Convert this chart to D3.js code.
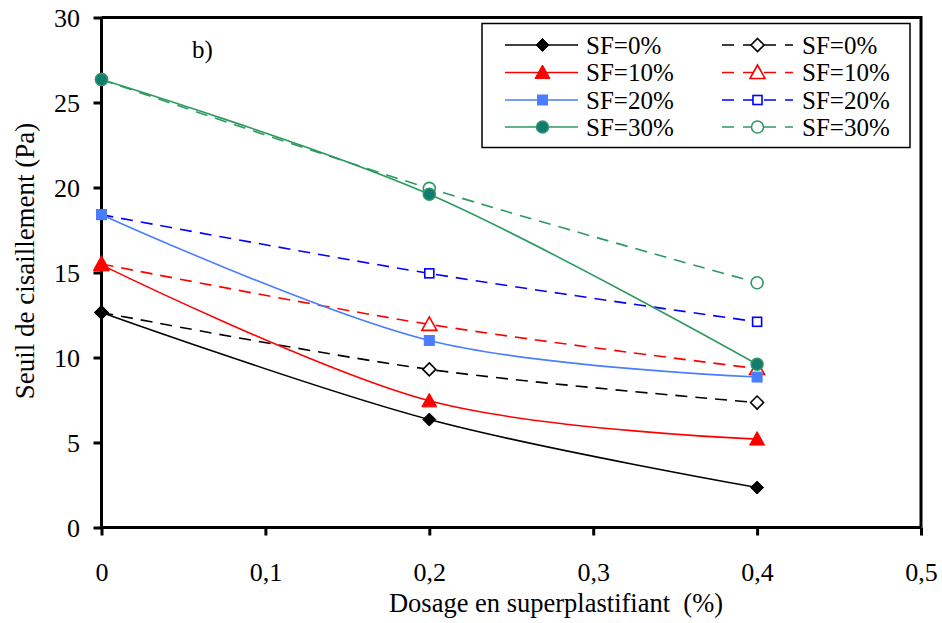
<!DOCTYPE html>
<html><head><meta charset="utf-8">
<script src="https://cdn.jsdelivr.net/npm/d3@7"></script>
<style>html,body{margin:0;padding:0;background:#fff;}svg{display:block;}svg text{font-family:'Liberation Serif','Times New Roman',serif;}</style>
</head><body>
<script>
const xValues = [0, 0.2, 0.4];
const xTicks = [0, 0.1, 0.2, 0.3, 0.4, 0.5];
const yTicks = [0, 5, 10, 15, 20, 25, 30];
const labels = ["SF=0%", "SF=10%", "SF=20%", "SF=30%"];
const solid0 = [12.65, 6.35, 2.35];
const solid10 = [15.45, 7.45, 5.2];
const solid20 = [18.4, 11.0, 8.85];
const solid30 = [26.35, 19.6, 9.6];
const dashed0 = [12.65, 9.3, 7.35];
const dashed10 = [15.5, 11.95, 9.35];
const dashed20 = [18.4, 14.95, 12.1];
const dashed30 = [26.35, 19.95, 14.4];

const W = 942, H = 623;
const svg = d3.select("body").append("svg").attr("width", W).attr("height", H);
const x = d3.scaleLinear().domain([0, 0.5]).range([101.5, 921]);
const y = d3.scaleLinear().domain([0, 30]).range([527.5, 17.5]);
const font = "'Liberation Serif','Times New Roman',serif";

const series = [
  {name: labels[0], v: solid0, color: "#000000", dash: null, sym: "diamond", fill: true},
  {name: labels[1], v: solid10, color: "#ff0000", dash: null, sym: "triangle", fill: true},
  {name: labels[2], v: solid20, color: "#4a7dff", dash: null, sym: "square", fill: true},
  {name: labels[3], v: solid30, color: "#2e9a62", dash: null, sym: "circle", fill: true, fillColor: "#127a70"},
  {name: labels[0], v: dashed0, color: "#000000", dash: "12,8", sym: "diamond", fill: false},
  {name: labels[1], v: dashed10, color: "#ff0000", dash: "12,8", sym: "triangle", fill: false},
  {name: labels[2], v: dashed20, color: "#0000ff", dash: "12,8", sym: "square", fill: false},
  {name: labels[3], v: dashed30, color: "#2e9a62", dash: "12,8", sym: "circle", fill: false}
];

function drawMarker(g, s, cx, cy) {
  const fill = s.fill ? (s.fillColor || s.color) : "#fff";
  const sw = s.fill ? 1 : 1.6;
  if (s.sym === "diamond") {
    const r = 6.5;
    g.append("path").attr("d", `M${cx},${cy-r}L${cx+r},${cy}L${cx},${cy+r}L${cx-r},${cy}Z`)
      .attr("fill", fill).attr("stroke", s.color).attr("stroke-width", sw);
  } else if (s.sym === "triangle") {
    const r = 7.5;
    g.append("path").attr("d", `M${cx},${cy-r}L${cx+r},${cy+r*0.8}L${cx-r},${cy+r*0.8}Z`)
      .attr("fill", fill).attr("stroke", s.color).attr("stroke-width", sw);
  } else if (s.sym === "square") {
    const r = s.fill ? 5 : 4.5;
    g.append("rect").attr("x", cx-r).attr("y", cy-r).attr("width", 2*r).attr("height", 2*r)
      .attr("fill", fill).attr("stroke", s.color).attr("stroke-width", sw);
  } else {
    g.append("circle").attr("cx", cx).attr("cy", cy).attr("r", 6)
      .attr("fill", fill).attr("stroke", s.color).attr("stroke-width", s.fill ? 1.5 : 1.6);
  }
}

// axes
const xAxis = d3.axisBottom(x).tickValues(xTicks).tickSize(8).tickPadding(10)
  .tickFormat(d => d === 0 ? "0" : d3.format(".1f")(d).replace(".", ","));
const gx = svg.append("g").attr("transform", `translate(0,${y(0)})`).call(xAxis)
  .attr("font-family", font).attr("font-size", 26);
gx.select(".domain").attr("stroke-width", 3).attr("d", `M${x(0)},0H${x(0.5)}`);
gx.selectAll(".tick line").attr("stroke-width", 3);
gx.selectAll("text").attr("font-family", font).attr("font-size", 26).attr("fill", "#000")
  .attr("y", 53.5).attr("dy", 0);

const yAxis = d3.axisLeft(y).tickValues(yTicks).tickSize(8).tickPadding(13.5);
const gy = svg.append("g").attr("transform", `translate(${x(0)},0)`).call(yAxis)
  .attr("font-family", font).attr("font-size", 26);
gy.select(".domain").attr("stroke-width", 3).attr("d", `M0,${y(0)}V${y(30)}`);
gy.selectAll(".tick line").attr("stroke-width", 3);
gy.selectAll("text").attr("font-family", font).attr("font-size", 26).attr("fill", "#000").attr("dy", "0.34em");

// top and right frame
svg.append("path").attr("d", `M${x(0)},${y(30)}H${x(0.5)}V${y(0)}`)
  .attr("fill", "none").attr("stroke", "#000").attr("stroke-width", 3);

// lines
const line = d3.line().x((d, i) => x(xValues[i])).y(d => y(d)).curve(d3.curveCardinal.tension(0));
const drawOrder = [4,5,6,7,0,1,2,3];
drawOrder.forEach(k => {
  const s = series[k];
  svg.append("path").attr("d", line(s.v)).attr("fill", "none").attr("stroke", s.color)
    .attr("stroke-width", 1.6).attr("stroke-dasharray", s.dash);
});
const mg = svg.append("g");
drawOrder.forEach(k => {
  const s = series[k];
  s.v.forEach((v, i) => drawMarker(mg, s, x(xValues[i]), y(v)));
});

// label b)
svg.append("text").attr("x", 192).attr("y", 58).text("b)")
  .attr("font-family", font).attr("font-size", 25);

// legend
const lg = svg.append("g");
lg.append("rect").attr("x", 482).attr("y", 23.5).attr("width", 428).attr("height", 124)
  .attr("fill", "#fff").attr("stroke", "#000").attr("stroke-width", 1.5);
const rowsY = [45, 72.5, 100, 127];
series.forEach((s, k) => {
  const col = k < 4 ? 0 : 1;
  const r = k % 4;
  const x0 = col === 0 ? 505 : 722, x1 = col === 0 ? 578 : 793;
  const mx = (x0 + x1) / 2 + (col === 0 ? 1 : 0);
  const cy = rowsY[r];
  lg.append("line").attr("x1", x0).attr("x2", x1).attr("y1", cy).attr("y2", cy)
    .attr("stroke", s.color).attr("stroke-width", 1.6).attr("stroke-dasharray", s.dash ? "12,9" : null);
  drawMarker(lg, s, mx, cy);
  lg.append("text").attr("x", col === 0 ? 586 : 802).attr("y", cy + 8.5).text(s.name)
    .attr("font-family", font).attr("font-size", 25);
});

// axis titles
svg.append("text").attr("x", 556).attr("y", 612).attr("text-anchor", "middle")
  .attr("font-family", font).attr("font-size", 26.5).attr("xml:space", "preserve")
  .style("white-space", "pre").text("Dosage en superplastifiant  (%)");
svg.append("text").attr("transform", "translate(34,261) rotate(-90)").attr("text-anchor", "middle")
  .attr("font-family", font).attr("font-size", 27).text("Seuil de cisaillement (Pa)");
</script>
</body></html>
